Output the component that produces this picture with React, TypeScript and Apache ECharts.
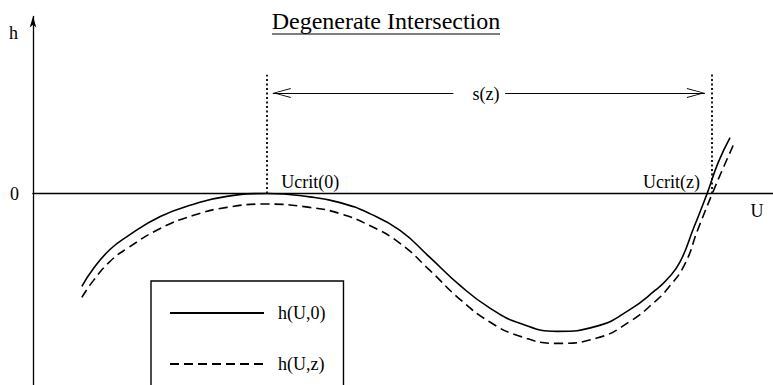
import React, { useEffect, useRef } from "react";
import * as echarts from "echarts";

// h(U,0) — solid curve
const U_SOLID = [0.66, 0.81, 1.04, 1.27, 1.72, 2.16, 2.62, 3.16, 3.74, 4.15, 4.55, 4.96, 5.36, 5.77, 6.18, 6.58, 7.08, 7.62, 8.07, 8.41, 8.57, 8.74, 8.93, 9.11, 9.26, 9.42];
const H_SOLID = [-1.94, -1.58, -1.17, -0.9, -0.48, -0.23, -0.06, 0, -0.07, -0.19, -0.42, -0.77, -1.33, -1.92, -2.4, -2.71, -2.88, -2.77, -2.42, -2.02, -1.79, -1.44, -0.71, 0, 0.65, 1.17];

// h(U,z) — dashed curve
const U_DASHED = [0.66, 0.81, 1.04, 1.27, 1.72, 2.16, 2.62, 3.16, 3.74, 4.15, 4.55, 4.96, 5.36, 5.77, 6.18, 6.58, 7.08, 7.62, 8.07, 8.41, 8.58, 8.8, 8.99, 9.18, 9.34, 9.49];
const H_DASHED = [-2.17, -1.83, -1.42, -1.15, -0.73, -0.46, -0.29, -0.22, -0.29, -0.42, -0.67, -1.04, -1.6, -2.21, -2.69, -2.98, -3.13, -3.02, -2.67, -2.25, -1.98, -1.5, -0.73, 0, 0.58, 1.1];

const SERIES_NAMES = ["h(U,0)", "h(U,z)"];
const TITLE = "Degenerate Intersection";

// annotation values (data units)
const UCRIT0 = 3.16;
const UCRITZ = 9.17;
const DOTTED_TOP_0 = 2.48;
const DOTTED_TOP_Z = 2.54;
const S_LEVEL = 2.1;
const ARROW_START = 3.24;
const ARROW_END = 9.08;
const GAP_START = 5.68;
const GAP_END = 6.38;
const S_CENTER = 6.12;

const U_MIN = 0;
const U_MAX = 10;
const H_MIN = -4;
const H_MAX = 3.7;

const FONT = "Liberation Serif";
const CHEVRON = "path://M5,-10L5.02,-10L5,-9.98Z M5,0L10,10L9,10L5,1.6L1,10L0,10Z";

export default function App() {
  const ref = useRef<HTMLDivElement>(null);

  useEffect(() => {
    if (!ref.current) return;
    const chart = echarts.init(ref.current, undefined, { renderer: "svg" });
    const solid = U_SOLID.map((u, i) => [u, H_SOLID[i]]);
    const dashed = U_DASHED.map((u, i) => [u, H_DASHED[i]]);
    const textStyle = { fontFamily: FONT, fontSize: 18, color: "#000" };

    chart.setOption({
      animation: false,
      grid: { left: 33, top: 16.4, width: 740, height: 369.6, containLabel: false },
      xAxis: {
        type: "value",
        min: U_MIN,
        max: U_MAX,
        axisLine: { onZero: true, lineStyle: { color: "#000", width: 1.3 } },
        axisTick: { show: false },
        axisLabel: { show: false },
        splitLine: { show: false },
      },
      yAxis: {
        type: "value",
        min: H_MIN,
        max: H_MAX,
        interval: 1,
        axisLine: {
          show: true,
          onZero: false,
          symbol: ["none", "arrow"],
          symbolSize: [5, 11],
          lineStyle: { color: "#000", width: 1.3 },
        },
        axisTick: { show: false },
        axisLabel: {
          margin: 14,
          padding: [4, 0, 0, 0],
          fontFamily: FONT,
          fontSize: 18,
          color: "#000",
          formatter: (v: number) => (v === 0 ? "0" : ""),
        },
        splitLine: { show: false },
      },
      legend: {
        data: SERIES_NAMES,
        orient: "vertical",
        left: 151,
        top: 281,
        height: 140,
        padding: [23, 18, 23, 18],
        itemWidth: 94,
        itemHeight: 14,
        itemGap: 33,
        borderColor: "#000",
        borderWidth: 1.4,
        selectedMode: false,
        itemStyle: { opacity: 0 },
        textStyle: { ...textStyle, padding: [0, 0, 0, 9] },
      },
      graphic: [
        {
          type: "text",
          x: 386,
          y: 21,
          style: { text: TITLE, font: `24px "${FONT}"`, fill: "#000", align: "center", verticalAlign: "middle" },
        },
        { type: "line", shape: { x1: 272, y1: 34, x2: 500, y2: 34 }, style: { stroke: "#000", lineWidth: 1 } },
        {
          type: "text",
          x: 13.5,
          y: 33,
          style: { text: "h", font: `18px "${FONT}"`, fill: "#000", align: "center", verticalAlign: "middle" },
        },
        {
          type: "text",
          x: 757,
          y: 211,
          style: { text: "U", font: `18px "${FONT}"`, fill: "#000", align: "center", verticalAlign: "middle" },
        },
      ],
      series: [
        {
          name: SERIES_NAMES[0],
          type: "line",
          data: solid,
          symbol: "none",
          smooth: true,
          lineStyle: { color: "#000", width: 1.6 },
          itemStyle: { color: "#000" },
          silent: true,
          markLine: {
            silent: true,
            symbol: "none",
            label: { show: false },
            emphasis: { disabled: true },
            data: [
              [
                { coord: [UCRIT0, 0], lineStyle: { type: [2, 2.5], width: 1.8, color: "#000" } },
                { coord: [UCRIT0, DOTTED_TOP_0] },
              ],
              [
                { coord: [UCRITZ, 0], lineStyle: { type: [2, 2.5], width: 1.8, color: "#000" } },
                { coord: [UCRITZ, DOTTED_TOP_Z] },
              ],
              [
                { coord: [ARROW_START, S_LEVEL], symbol: CHEVRON, symbolSize: [10, 36], lineStyle: { type: "solid", width: 1.2, color: "#000" } },
                { coord: [GAP_START, S_LEVEL], symbol: "none" },
              ],
              [
                { coord: [GAP_END, S_LEVEL], symbol: "none", lineStyle: { type: "solid", width: 1.2, color: "#000" } },
                { coord: [ARROW_END, S_LEVEL], symbol: CHEVRON, symbolSize: [10, 36] },
              ],
            ],
          },
          markPoint: {
            silent: true,
            symbol: "rect",
            symbolSize: 1,
            itemStyle: { color: "rgba(0,0,0,0)" },
            label: { show: true, formatter: "{b}", ...textStyle },
            data: [
              { name: "Ucrit(0)", coord: [UCRIT0, 0], label: { position: "right", distance: 14, offset: [0, -12] } },
              { name: "Ucrit(z)", coord: [UCRITZ, 0], label: { position: "left", distance: 11, offset: [0, -12] } },
              { name: "s(z)", coord: [S_CENTER, S_LEVEL], label: { position: "inside", offset: [0, 1] } },
            ],
          },
        },
        {
          name: SERIES_NAMES[1],
          type: "line",
          data: dashed,
          symbol: "none",
          smooth: true,
          lineStyle: { color: "#000", width: 1.6, type: [9, 5] },
          itemStyle: { color: "#000" },
          silent: true,
        },
      ],
    });

    return () => chart.dispose();
  }, []);

  return <div ref={ref} style={{ position: "absolute", left: 0, top: 0, width: 773, height: 385 }} />;
}
